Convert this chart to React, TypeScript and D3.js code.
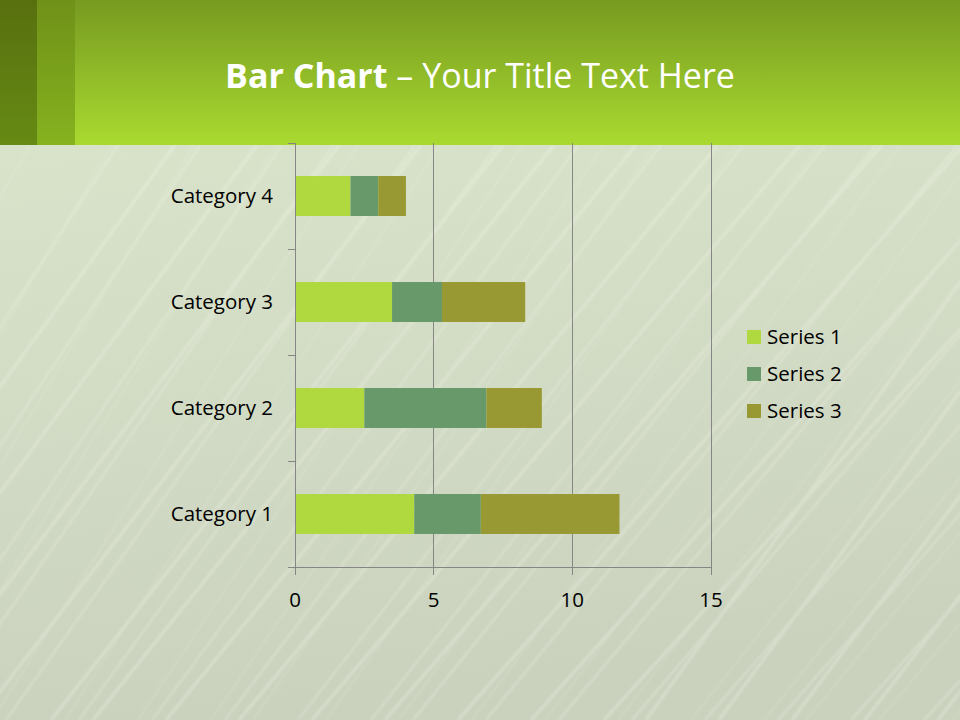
import React from "react";
import * as d3 from "d3";

const categories = ["Category 1", "Category 2", "Category 3", "Category 4"];
const seriesNames = ["Series 1", "Series 2", "Series 3"];
const series1 = [4.3, 2.5, 3.5, 2];
const series2 = [2.4, 4.4, 1.8, 1];
const series3 = [5, 2, 3, 1];
const xTicks = [0, 5, 10, 15];
const colors = ["#afd93f", "#67996a", "#999934"];

const W = 960;
const H = 720;
const FONT = "'Open Sans', 'Noto Sans', sans-serif";
const LABEL_SIZE = 20.5;

export default function App() {
  const rows = categories.map((c, i) => ({
    cat: c,
    s0: series1[i],
    s1: series2[i],
    s2: series3[i],
  }));
  const stack = d3.stack<any>().keys(["s0", "s1", "s2"]);
  const stacked = stack(rows);

  const x = d3.scaleLinear().domain([0, 15]).range([295, 711]);
  const y = d3
    .scaleBand()
    .domain([...categories].reverse())
    .range([143, 567])
    .paddingInner(0.623)
    .paddingOuter(0.3115);
  const step = y.step();

  // decorative streaks (background texture only)
  const streaks = d3.range(60).map((i) => i);

  return (
    <svg
      width={W}
      height={H}
      style={{ position: "absolute", left: 0, top: 0 }}
      xmlns="http://www.w3.org/2000/svg"
    >
      <defs>
        <linearGradient id="hdr" x1="0" y1="0" x2="0" y2="1">
          <stop offset="0" stopColor="#779a20" />
          <stop offset="1" stopColor="#a9da30" />
        </linearGradient>
        <linearGradient id="hdrL1" x1="0" y1="0" x2="0" y2="1">
          <stop offset="0" stopColor="#58700f" />
          <stop offset="1" stopColor="#668a14" />
        </linearGradient>
        <linearGradient id="hdrL2" x1="0" y1="0" x2="0" y2="1">
          <stop offset="0" stopColor="#6f9118" />
          <stop offset="1" stopColor="#86b21f" />
        </linearGradient>
        <linearGradient id="body" x1="0" y1="0" x2="0.2" y2="1">
          <stop offset="0" stopColor="#d9e3ca" />
          <stop offset="1" stopColor="#cad2be" />
        </linearGradient>
        <filter id="blur">
          <feGaussianBlur stdDeviation="1.2" />
        </filter>
      </defs>
      <rect x={0} y={145} width={W} height={H - 145} fill="url(#body)" />
      <g opacity={0.28} filter="url(#blur)">
        {streaks.map((i) => {
          const x0 = -300 + i * 23 + ((i * 53) % 31);
          const slant = 330 + ((i * 41) % 120) + i * 2;
          return (
            <line
              key={i}
              x1={x0}
              y1={H}
              x2={x0 + slant}
              y2={145}
              stroke="#f6faee"
              strokeWidth={1 + ((i * 7) % 3)}
            />
          );
        })}
      </g>
      <rect x={0} y={0} width={W} height={145} fill="url(#hdr)" />
      <rect x={0} y={0} width={37} height={145} fill="url(#hdrL1)" />
      <rect x={37} y={0} width={38} height={145} fill="url(#hdrL2)" />

      <text
        x={480}
        y={88}
        textAnchor="middle"
        fill="#ffffff"
        fontFamily={FONT}
        fontSize={34}
      >
        <tspan fontWeight="bold">Bar Chart</tspan>
        <tspan> – Your Title Text Here</tspan>
      </text>

      {/* gridlines */}
      {xTicks.slice(1).map((t) => (
        <line
          key={t}
          x1={Math.floor(x(t)) + 0.5}
          x2={Math.floor(x(t)) + 0.5}
          y1={143}
          y2={567}
          stroke="#868686"
          strokeWidth={1}
        />
      ))}

      {/* bars */}
      {stacked.map((s, si) =>
        s.map((d, ci) => (
          <rect
            key={si + "-" + ci}
            x={x(d[0])}
            width={x(d[1]) - x(d[0])}
            y={y(categories[ci])}
            height={y.bandwidth()}
            fill={colors[si]}
          />
        ))
      )}

      {/* y axis */}
      <line x1={295.5} x2={295.5} y1={143} y2={567} stroke="#868686" />
      {d3.range(categories.length + 1).map((i) => (
        <line
          key={i}
          x1={288}
          x2={295}
          y1={143.5 + i * step}
          y2={143.5 + i * step}
          stroke="#868686"
        />
      ))}
      {categories.map((c) => (
        <text
          key={c}
          x={273}
          y={(y(c) as number) + y.bandwidth() / 2}
          dy="0.35em"
          textAnchor="end"
          fontFamily={FONT}
          fontSize={LABEL_SIZE}
          fill="#000"
        >
          {c}
        </text>
      ))}

      {/* x axis */}
      <line x1={288} x2={711} y1={567.5} y2={567.5} stroke="#868686" />
      {xTicks.map((t) => (
        <g key={t}>
          <line
            x1={Math.floor(x(t)) + 0.5}
            x2={Math.floor(x(t)) + 0.5}
            y1={567}
            y2={575}
            stroke="#868686"
          />
          <text
            x={x(t)}
            y={607}
            textAnchor="middle"
            fontFamily={FONT}
            fontSize={LABEL_SIZE}
            fill="#000"
          >
            {t}
          </text>
        </g>
      ))}

      {/* legend */}
      {seriesNames.map((n, i) => (
        <g key={n} transform={`translate(747, ${337 + i * 37})`}>
          <rect x={0} y={-7} width={14} height={14} fill={colors[i]} />
          <text
            x={20}
            y={0}
            dy="0.35em"
            fontFamily={FONT}
            fontSize={LABEL_SIZE}
            fill="#000"
          >
            {n}
          </text>
        </g>
      ))}
    </svg>
  );
}
